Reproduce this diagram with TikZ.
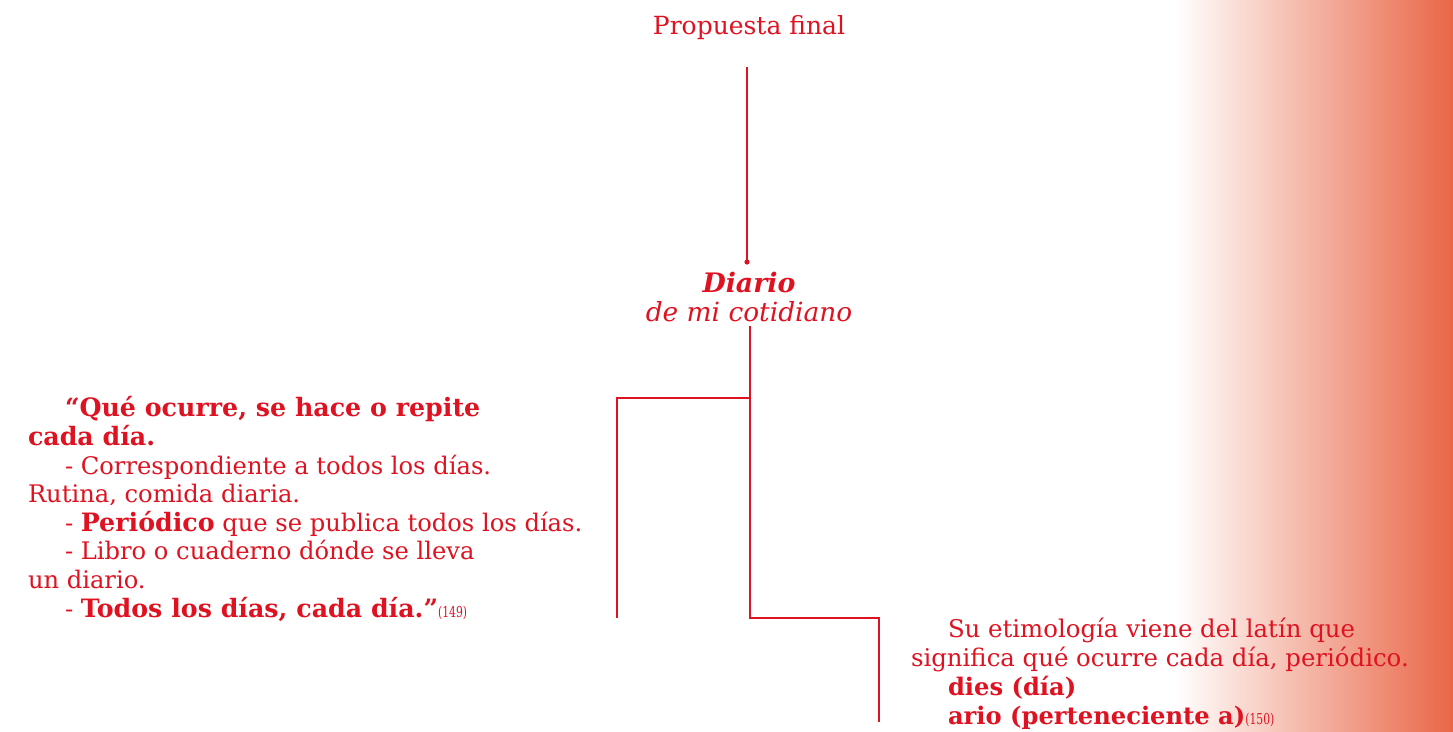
\documentclass[tikz,border=0pt]{standalone}
\usepackage{fontspec}
\setmainfont{DejaVu Serif}
\definecolor{txtred}{RGB}{222,18,32}
\definecolor{gradend}{RGB}{233,102,70}
\newcommand{\ind}{\hspace*{37pt}}
\newcommand{\refnum}[1]{{\fontsize{15}{16}\selectfont\scalebox{0.72}[1]{(#1)}}}
\newcommand{\LB}[1]{{\fontsize{25.3}{28.6}\selectfont\bfseries #1}}
\newcommand{\RB}[1]{{\fontsize{24.2}{29}\selectfont\bfseries #1}}
\begin{document}
\begin{tikzpicture}[x=1pt,y=-1pt,
  every node/.style={inner sep=0pt, outer sep=0pt, text=txtred},
  conn/.style={draw=txtred, line width=1.2pt},
  lbody/.style={font=\fontsize{24.2}{28.6}\selectfont, align=left, anchor=base west},
  rbody/.style={font=\fontsize{24.4}{29}\selectfont, align=left, anchor=base west},
  titletext/.style={font=\fontsize{25}{28}\selectfont, anchor=base}]
\useasboundingbox (0,0) rectangle (1453,731);
\shade[left color=white, right color=gradend] (1175,0) rectangle (1453,731);

\node[titletext] (title) at (749,34) {Propuesta final};
\coordinate (tbot) at (747,67);
\coordinate (dot) at (747,262);
\draw[conn] (tbot) -- (dot);
\fill[txtred] (dot) circle (2.6pt);

\node[anchor=base, font=\fontsize{26.8}{30}\selectfont\bfseries\itshape] (diario) at (749,292) {Diario};
\node[anchor=base, font=\fontsize{26.4}{30}\selectfont\itshape] (cotid) at (749,321) {de mi cotidiano};

\coordinate (dtop) at (750,326);
\coordinate (split) at (750,398);
\coordinate (lcorner) at (617,398);
\coordinate (lend) at (617,618);
\coordinate (rcorner) at (750,618);
\coordinate (rturn) at (879,618);
\coordinate (rend) at (879,722);

\draw[conn] (dtop) -- (split) -- (lcorner) -- (lend);
\draw[conn] (split) -- (rcorner) -- (rturn) -- (rend);

\node[lbody] (deftext) at (28,617) {%
\ind\LB{“Qué ocurre, se hace o repite}\\
\LB{cada día.}\\
\ind- Correspondiente a todos los días.\\
Rutina, comida diaria.\\
\ind- \LB{Periódico} que se publica todos los días.\\
\ind- Libro o cuaderno dónde se lleva\\
un diario.\\
\ind- \LB{Todos los días, cada día.”}\refnum{149}};

\node[rbody] (etim) at (911,724.5) {%
\ind Su etimología viene del latín que\\
significa qué ocurre cada día, periódico.\\
\ind\RB{dies (día)}\\
\ind\RB{ario (perteneciente a)}\refnum{150}};
\end{tikzpicture}
\end{document}
